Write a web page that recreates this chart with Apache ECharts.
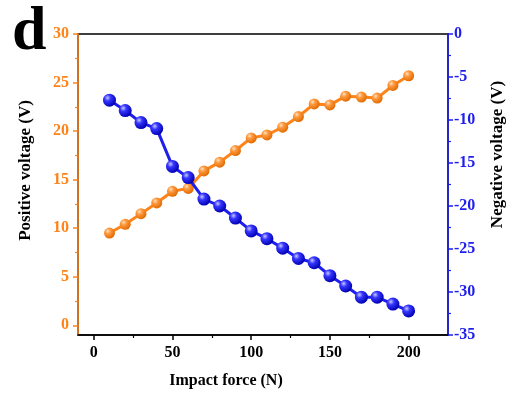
<!DOCTYPE html>
<html>
<head>
<meta charset="utf-8">
<script src="https://cdn.jsdelivr.net/npm/echarts@6/dist/echarts.min.js"></script>
<style>
  html, body { margin: 0; padding: 0; background: #fff; }
  #chart { width: 514px; height: 394px; }
</style>
</head>
<body>
<div id="chart"></div>
<script>
// Impact force (N) applied at each step
const force = [10, 20, 30, 40, 50, 60, 70, 80, 90, 100, 110, 120, 130, 140, 150, 160, 170, 180, 190, 200];
// Positive output voltage (V), left axis
const positiveVoltage = [9.5, 10.4, 11.5, 12.6, 13.8, 14.1, 15.9, 16.8, 18.0, 19.3, 19.6, 20.4, 21.5, 22.8, 22.7, 23.6, 23.5, 23.4, 24.7, 25.7];
// Negative output voltage (V), right axis
const negativeVoltage = [-7.7, -8.9, -10.3, -11.0, -15.4, -16.7, -19.2, -20.0, -21.4, -22.9, -23.8, -24.9, -26.1, -26.6, -28.1, -29.3, -30.6, -30.6, -31.4, -32.2];

// Tick positions
const xTicks = [0, 50, 100, 150, 200];
const xMinorTicks = [25, 75, 125, 175];
const leftTicks = [0, 5, 10, 15, 20, 25, 30];
const leftMinorTicks = [2.5, 7.5, 12.5, 17.5, 22.5, 27.5];

const ORANGE = '#FF8318';
const BLUE = '#1E1EEE';
const FONT = '"Liberation Serif", "Times New Roman", serif';

function sphere(light, mid, dark) {
  return {
    type: 'radial', x: 0.35, y: 0.32, r: 0.7,
    colorStops: [
      { offset: 0, color: light },
      { offset: 0.35, color: mid },
      { offset: 1, color: dark }
    ]
  };
}

const chart = echarts.init(document.getElementById('chart'), null, { renderer: 'canvas' });

const tickLabel = (color) => ({
  color: color, fontFamily: FONT, fontWeight: 'bold', fontSize: 16
});

chart.setOption({
  animation: false,
  title: {
    text: 'd', left: 7, top: -3,
    textStyle: { fontFamily: FONT, fontWeight: 'bold', fontSize: 62, color: '#000' }
  },
  grid: {
    left: 78, right: 64, top: 34, bottom: 58,
    show: true, borderColor: '#000', borderWidth: 1.5, backgroundColor: 'transparent'
  },
  xAxis: [
    {
      type: 'value', min: -10, max: 225, position: 'bottom',
      name: 'Impact force (N)', nameLocation: 'middle', nameGap: 38,
      nameTextStyle: { fontFamily: FONT, fontWeight: 'bold', fontSize: 16, color: '#000', padding: [0, 74, 0, 0] },
      axisLine: { show: true, onZero: false, lineStyle: { color: '#000', width: 1.5 } },
      axisTick: { show: true, inside: false, length: 5, customValues: xTicks, lineStyle: { color: '#000', width: 1.5 } },
      axisLabel: Object.assign({ margin: 10, customValues: xTicks }, tickLabel('#000')),
      splitLine: { show: false }
    },
    {
      type: 'value', min: -10, max: 225, position: 'bottom',
      axisLine: { show: false, onZero: false },
      axisTick: { show: true, length: 3, customValues: xMinorTicks, lineStyle: { color: '#000', width: 1.2 } },
      axisLabel: { show: false },
      splitLine: { show: false }
    }
  ],
  yAxis: [
    {
      type: 'value', min: -1, max: 30, position: 'left',
      name: 'Positive voltage (V)', nameLocation: 'middle', nameGap: 44, nameRotate: 90,
      nameTextStyle: { fontFamily: FONT, fontWeight: 'bold', fontSize: 17, color: '#000', padding: [0, 0, 0, 28] },
      axisLine: { show: true, onZero: false, lineStyle: { color: ORANGE, width: 1.5 } },
      axisTick: { show: true, length: 5, customValues: leftTicks, lineStyle: { color: ORANGE, width: 1.5 } },
      axisLabel: Object.assign({ margin: 9, customValues: leftTicks }, tickLabel(ORANGE)),
      splitLine: { show: false }
    },
    {
      type: 'value', min: -35, max: 0, interval: 5, position: 'right',
      name: 'Negative voltage (V)', nameLocation: 'middle', nameGap: 41, nameRotate: 90,
      nameTextStyle: { fontFamily: FONT, fontWeight: 'bold', fontSize: 17, color: '#000', padding: [0, 0, 0, 60] },
      axisLine: { show: true, onZero: false, lineStyle: { color: BLUE, width: 1.5 } },
      axisTick: { show: true, length: 5, lineStyle: { color: BLUE, width: 1.5 } },
      minorTick: { show: true, splitNumber: 2, length: 3, lineStyle: { color: BLUE, width: 1.2 } },
      axisLabel: Object.assign({ margin: 6 }, tickLabel(BLUE)),
      splitLine: { show: false }, minorSplitLine: { show: false }
    },
    {
      type: 'value', min: -1, max: 30, position: 'left',
      axisLine: { show: false, onZero: false },
      axisTick: { show: true, length: 3, customValues: leftMinorTicks, lineStyle: { color: ORANGE, width: 1.2 } },
      axisLabel: { show: false },
      splitLine: { show: false }
    }
  ],
  series: [
    {
      name: 'Positive voltage', type: 'line', xAxisIndex: 0, yAxisIndex: 0,
      data: force.map((f, i) => [f, positiveVoltage[i]]),
      symbol: 'circle', symbolSize: 11,
      lineStyle: { color: ORANGE, width: 3 },
      itemStyle: { color: sphere('#FFE2C2', '#FF9A40', '#E06A00'), borderWidth: 0 },
      z: 2
    },
    {
      name: 'Negative voltage', type: 'line', xAxisIndex: 0, yAxisIndex: 1,
      data: force.map((f, i) => [f, negativeVoltage[i]]),
      symbol: 'circle', symbolSize: 13,
      lineStyle: { color: BLUE, width: 3 },
      itemStyle: { color: sphere('#C8C8FF', '#3535FF', '#0000B0'), borderWidth: 0 },
      z: 3
    }
  ]
});
</script>
</body>
</html>
